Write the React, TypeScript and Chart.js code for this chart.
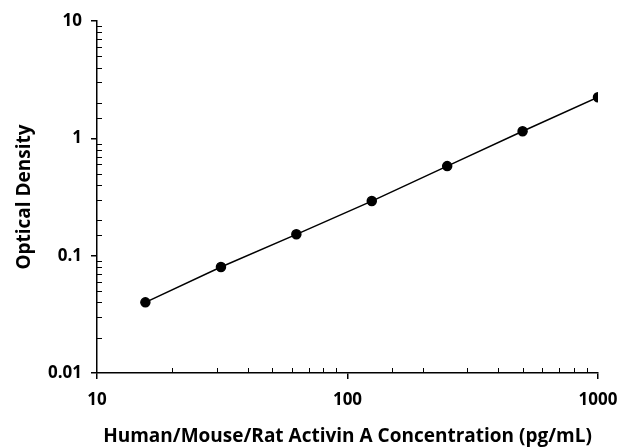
import React, { useEffect, useRef } from "react";
import { Chart, registerables } from "chart.js";

Chart.register(...registerables);

const concentrations = [15.6, 31.25, 62.5, 125, 250, 500, 1000];
const opticalDensity = [0.040, 0.080, 0.152, 0.292, 0.580, 1.15, 2.24];
const xTitle = "Human/Mouse/Rat Activin A Concentration (pg/mL)";
const yTitle = "Optical Density";
const xLabels = ["10", "100", "1000"];
const yLabels = ["0.01", "0.1", "1", "10"];

const FONT = "'Open Sans', 'DejaVu Sans', sans-serif";

const isPow10 = (v: number) => {
  const l = Math.log10(v);
  return Math.abs(l - Math.round(l)) < 1e-9;
};

const minorTicks = {
  id: "minorTicks",
  afterDraw(chart: any) {
    const { ctx, chartArea } = chart;
    ctx.save();
    ctx.strokeStyle = "#000";
    ctx.lineWidth = 1;
    const xs = chart.scales.x;
    const ys = chart.scales.y;
    xs.ticks.forEach((t: any) => {
      if (isPow10(t.value)) return;
      const px = Math.round(xs.getPixelForValue(t.value)) + 0.5;
      ctx.beginPath();
      ctx.moveTo(px, chartArea.bottom);
      ctx.lineTo(px, chartArea.bottom - 5);
      ctx.stroke();
    });
    ys.ticks.forEach((t: any) => {
      if (isPow10(t.value)) return;
      const py = Math.round(ys.getPixelForValue(t.value)) + 0.5;
      ctx.beginPath();
      ctx.moveTo(chartArea.left, py);
      ctx.lineTo(chartArea.left + 5, py);
      ctx.stroke();
    });
    ctx.restore();
  },
};

export default function App() {
  const ref = useRef<HTMLCanvasElement>(null);
  useEffect(() => {
    if (!ref.current) return;
    const chart = new Chart(ref.current, {
      type: "line",
      data: {
        datasets: [
          {
            data: concentrations.map((x, i) => ({ x, y: opticalDensity[i] })),
            borderColor: "#000",
            backgroundColor: "#000",
            borderWidth: 1.5,
            pointRadius: 4.5,
            pointHoverRadius: 4.5,
            pointBackgroundColor: "#000",
            pointBorderColor: "#000",
            tension: 0,
            fill: false,
          },
        ],
      },
      options: {
        animation: false,
        responsive: false,
        maintainAspectRatio: false,
        events: [],
        layout: { padding: { top: 21, right: 23, left: 0, bottom: 0 } },
        plugins: { legend: { display: false }, tooltip: { enabled: false } },
        scales: {
          x: {
            type: "logarithmic",
            min: 10,
            max: 1000,
            afterFit: (s: any) => { s.height = 75; s.paddingLeft = 0; s.paddingRight = 0; },
            border: { display: true, color: "#000", width: 1.5 },
            grid: {
              display: true,
              drawOnChartArea: false,
              drawTicks: true,
              tickLength: 6,
              lineWidth: 1.5,
              color: (c: any) => (c.tick && isPow10(c.tick.value) ? "#000" : "rgba(0,0,0,0)"),
            },
            ticks: {
              autoSkip: false,
              maxRotation: 0,
              padding: 11,
              color: "#000",
              font: { family: FONT, size: 17, weight: "bold" },
              callback: (v: any) => {
                const s = String(Number(v));
                return xLabels.includes(s) ? s : "";
              },
            },
            title: {
              display: true,
              text: xTitle,
              color: "#000",
              font: { family: FONT, size: 19, weight: "bold" },
              padding: { top: 10, bottom: 0 },
            },
          },
          y: {
            type: "logarithmic",
            min: 0.01,
            max: 10,
            afterFit: (s: any) => { s.width = 97; s.paddingTop = 0; s.paddingBottom = 0; },
            border: { display: true, color: "#000", width: 1.5 },
            grid: {
              display: true,
              drawOnChartArea: false,
              drawTicks: true,
              tickLength: 6,
              lineWidth: 1.5,
              color: (c: any) => (c.tick && isPow10(c.tick.value) ? "#000" : "rgba(0,0,0,0)"),
            },
            ticks: {
              autoSkip: false,
              padding: 9,
              color: "#000",
              font: { family: FONT, size: 17, weight: "bold" },
              callback: (v: any) => {
                const s = String(Number(v));
                return yLabels.includes(s) ? s : "";
              },
            },
            title: {
              display: true,
              text: yTitle,
              color: "#000",
              font: { family: FONT, size: 19, weight: "bold" },
              padding: { top: 13, bottom: 0 },
            },
          },
        },
      },
      plugins: [minorTicks],
    } as any);
    return () => chart.destroy();
  }, []);
  return (
    <div style={{ position: "absolute", left: 0, top: 0, width: 621, height: 448, background: "#fff" }}>
      <canvas ref={ref} width={621} height={448} style={{ width: 621, height: 448 }} />
    </div>
  );
}
